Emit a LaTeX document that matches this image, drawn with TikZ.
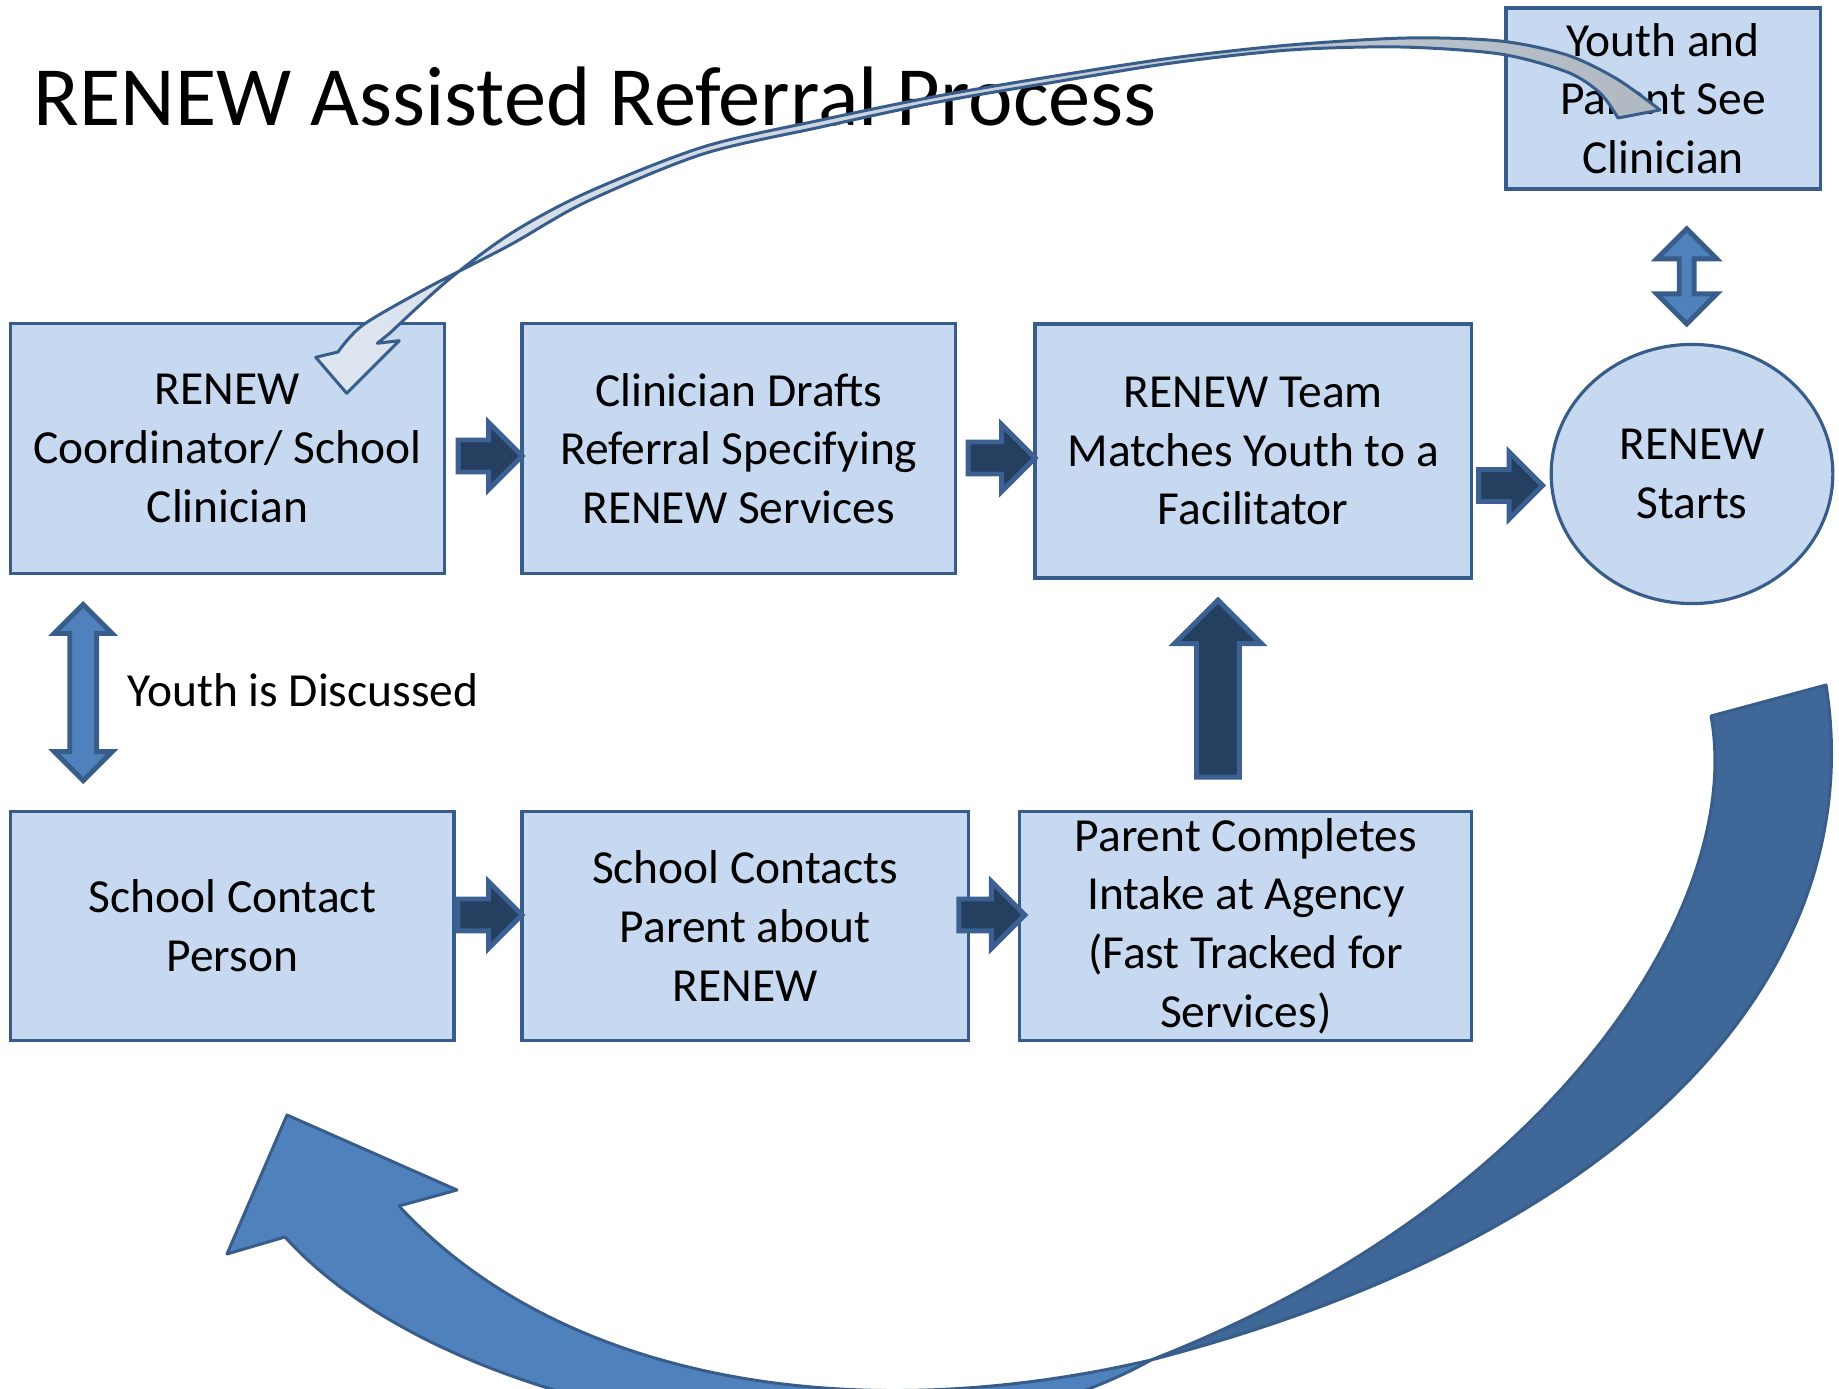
\documentclass[tikz,border=0pt]{standalone}
\usepackage{fontspec}
\setmainfont{Carlito}
\usetikzlibrary{arrows,positioning,shapes.geometric,shapes.arrows,calc}

\definecolor{boxfill}{RGB}{198,217,241}
\definecolor{boxline}{RGB}{56,93,138}
\definecolor{darkfill}{RGB}{36,63,96}
\definecolor{darkline}{RGB}{60,96,145}
\definecolor{midfill}{RGB}{79,129,189}
\definecolor{backfill}{RGB}{63,103,151}
\definecolor{arcpale}{RGB}{221,230,241}
\definecolor{arcgray}{RGB}{176,184,194}

\begin{document}
\begin{tikzpicture}[x=0.01cm,y=-0.01cm,
                    box/.style={rectangle,draw=boxline,fill=boxfill,line width=0.9pt,
                      align=center,inner sep=0pt,outer sep=0pt,
                      font=\fontsize{13.5}{16.7}\selectfont},
                    flow/.style={single arrow,draw=darkline,fill=darkfill,line width=1.4pt,
                      single arrow head extend=0.175cm,inner xsep=0pt,inner ysep=0.135cm,
                      outer sep=0pt,minimum width=0pt,minimum height=0.64cm},
                    talk/.style={double arrow,draw=boxline,fill=midfill,line width=1.4pt,
                      inner xsep=0pt,outer sep=0pt,minimum width=0pt,rotate=90},
                    ribbon/.style={draw=boxline,line width=0.85pt,line join=round}]
                \useasboundingbox (0,0) rectangle (1839,1389);
                \clip (0,0) rectangle (1839,1389);
                \node [anchor=base west,inner sep=0pt,font=\fontsize{24}{29}\selectfont]
                      (title) at (33,125.5) {RENEW Assisted Referral Process};
                \node [box,minimum width=4.34cm,minimum height=2.50cm] (coord) at (227.5,448.6)
                      {RENEW\\Coordinator/ School\\Clinician};
                \node [box,minimum width=4.33cm,minimum height=2.50cm] (draft) [right=0.774cm of coord]
                      {Clinician Drafts\\Referral Specifying\\RENEW Services};
                \node [box,minimum width=4.36cm,minimum height=2.54cm] (team) [right=0.797cm of draft,yshift=-0.024cm]
                      {RENEW Team\\Matches Youth to a\\Facilitator};
                \node [box,ellipse,minimum width=2.815cm,minimum height=2.59cm] (starts) at (1692,474)
                      {RENEW\\Starts};
                \node [box,minimum width=3.14cm,minimum height=1.81cm] (see) at (1663,98.5)
                      {Youth and\\Parent See\\Clinician};
                \node [box,minimum width=4.43cm,minimum height=2.29cm] (contact) at (232.3,926)
                      {School Contact\\Person};
                \node [box,minimum width=4.46cm,minimum height=2.29cm] (call) [right=0.68cm of contact]
                      {School Contacts\\Parent about\\RENEW};
                \node [box,minimum width=4.515cm,minimum height=2.29cm] (intake) [right=0.516cm of call]
                      {Parent Completes\\Intake at Agency\\(Fast Tracked for\\Services)};
                \node [anchor=base west,inner sep=0pt,font=\fontsize{13.5}{16.7}\selectfont]
                      (said) at (127,707) {Youth is Discussed};

                \node [flow,anchor=tip] (f1) at ([yshift=-0.074cm]draft.west) {};
                \node [flow,anchor=tip,minimum height=0.67cm] (f2) at ([yshift=-0.07cm]team.west) {};
                \node [flow,anchor=tip] (f3) at ([xshift=-0.085cm,yshift=-0.115cm]starts.west) {};
                \node [flow,anchor=tip] (f4) at ([yshift=0.11cm]call.west) {};
                \node [flow,anchor=tip,minimum height=0.66cm] (f5) at ([xshift=0.05cm,yshift=0.11cm]intake.west) {};
                \node [flow,anchor=tip,rotate=90,inner ysep=0.19cm,single arrow head extend=0.22cm,
                       minimum height=1.77cm] (f6) at ([xshift=-0.352cm,yshift=-0.22cm]team.south) {};
                \node [talk,minimum height=1.76cm,inner ysep=0.11cm,double arrow head extend=0.155cm]
                      (t1) at ($(coord.south west)!0.5!(contact.north west)+(72.7,0)$) {};
                \node [talk,minimum height=0.95cm,inner ysep=0.05cm,double arrow head extend=0.225cm]
                      (t2) at (1686.7,276.4) {};

                \filldraw [ribbon,fill=backfill] (1826,685) .. controls (1870,960) and (1650,1230) .. (1151,1360)
                      .. controls (1560,1200) and (1745,900) .. (1711,716) -- cycle;
                \filldraw [ribbon,fill=midfill] (287,1115) -- (457,1190) -- (399,1206)
                      .. controls (560,1380) and (850,1430) .. (1151,1360)
                      .. controls (900,1500) and (450,1420) .. (285,1237) -- (227,1254) -- cycle;
                \path [ribbon,left color=arcpale,right color=arcgray]
                      (346.7,393.3) -- (399.3,340.7) -- (377.3,343.3)
                      -- plot [smooth] coordinates {(390,333) (447,281) (510,234) (586,193) (703,147)
                        (821,120) (938,96) (1055,76) (1172,58) (1290,45) (1407,38) (1500,41)
                        (1567,55) (1617,79) (1660,110)}
                      -- plot [smooth] coordinates {(1618,118) (1600,93) (1567,72) (1500,54) (1400,47)
                        (1290,50) (1172,63) (1055,82) (938,102) (821,127) (703,154) (586,202)
                        (510,245) (427,288) (363,325) (338,352)}
                      -- (315.7,357.3) -- cycle;
            \end{tikzpicture}
\end{document}
